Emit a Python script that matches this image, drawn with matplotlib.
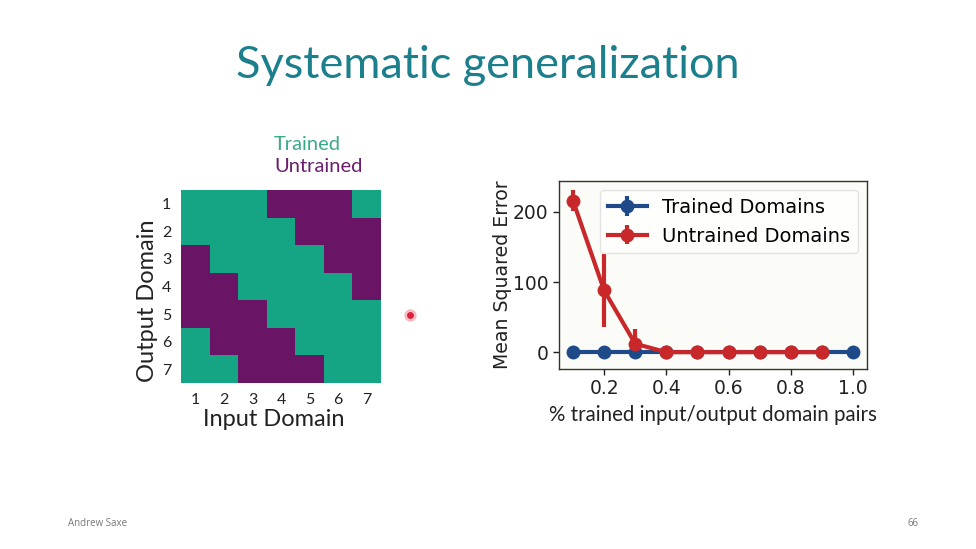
import matplotlib
matplotlib.use("Agg")
import matplotlib.pyplot as plt
import numpy as np
from matplotlib.colors import ListedColormap
from matplotlib.lines import Line2D

# ---- data ----
input_domains = [1, 2, 3, 4, 5, 6, 7]
output_domains = [1, 2, 3, 4, 5, 6, 7]
# 1 = trained, 0 = untrained ; rows = output domain 1..7, cols = input domain 1..7
trained_matrix = [
    [1, 1, 1, 0, 0, 0, 1],
    [1, 1, 1, 1, 0, 0, 0],
    [0, 1, 1, 1, 1, 0, 0],
    [0, 0, 1, 1, 1, 1, 0],
    [0, 0, 0, 1, 1, 1, 1],
    [1, 0, 0, 0, 1, 1, 1],
    [1, 1, 0, 0, 0, 1, 1],
]

frac_trained = [0.1, 0.2, 0.3, 0.4, 0.5, 0.6, 0.7, 0.8, 0.9, 1.0]
trained_mse = [0, 0, 0, 0, 0, 0, 0, 0, 0, 0]
trained_err = [0, 0, 0, 0, 0, 0, 0, 0, 0, 0]
frac_untrained = [0.1, 0.2, 0.3, 0.4, 0.5, 0.6, 0.7, 0.8, 0.9]
untrained_mse = [216, 88, 12, 0, 0, 0, 0, 0, 0]
untrained_err = [15, 52, 21, 1, 0.5, 0.5, 0.5, 0.5, 0.5]
x_ticks = [0.2, 0.4, 0.6, 0.8, 1.0]
y_ticks = [0, 100, 200]

GREEN = "#16a584"
PURPLE = "#6a1466"
TEAL = "#1b7f8c"
BLUE = "#1f4a8a"
RED = "#c8282a"

W, H = 976, 549
fig = plt.figure(figsize=(W / 100, H / 100), dpi=100)
fig.patch.set_facecolor("white")

def ax_rect(x0, y0, x1, y1):
    return [x0 / W, 1 - y1 / H, (x1 - x0) / W, (y1 - y0) / H]

def fx(x):
    return x / W

def fy(y):
    return 1 - y / H

# title
fig.text(fx(488), fy(66), "Systematic generalization", ha="center", va="center",
         fontsize=32.5, color=TEAL, family="Lato")

# ---- heatmap ----
ax1 = fig.add_axes(ax_rect(181, 190, 381, 383))
cmap = ListedColormap([PURPLE, GREEN])
ax1.imshow(np.array(trained_matrix), cmap=cmap, vmin=0, vmax=1, aspect="auto",
           interpolation="nearest")
ax1.set_xticks(range(len(input_domains)))
ax1.set_xticklabels([str(v) for v in input_domains])
ax1.set_yticks(range(len(output_domains)))
ax1.set_yticklabels([str(v) for v in output_domains])
ax1.tick_params(length=0, labelsize=11.5, pad=7, colors="#222222")
for lab in ax1.get_xticklabels() + ax1.get_yticklabels():
    lab.set_family("Lato")
for s in ax1.spines.values():
    s.set_visible(False)
fig.text(fx(274), fy(420), "Input Domain", ha="center", va="center", fontsize=17,
         family="Lato", color="#222222")
fig.text(fx(147), fy(301), "Output Domain", ha="center", va="center", fontsize=17,
         family="Lato", color="#222222", rotation=90)

fig.text(fx(274), fy(145), "Trained", ha="left", va="center", fontsize=14.5,
         color="#3aa98a", family="Lato")
fig.text(fx(274), fy(167), "Untrained", ha="left", va="center", fontsize=14.5,
         color="#6b1e6e", family="Lato")

# ---- line chart ----
ax2 = fig.add_axes(ax_rect(559, 181, 867, 369))
ax2.set_facecolor("#fbfcf7")
ax2.errorbar(frac_trained, trained_mse, yerr=trained_err, color=BLUE, lw=3,
             marker="o", ms=9, elinewidth=3, label="Trained Domains")
ax2.errorbar(frac_untrained, untrained_mse, yerr=untrained_err, color=RED, lw=3,
             marker="o", ms=9, elinewidth=3, label="Untrained Domains")
ax2.set_xlim(0.055, 1.045)
ax2.set_ylim(-24, 244)
ax2.set_xticks(x_ticks)
ax2.set_xticklabels([f"{v:.1f}" for v in x_ticks])
ax2.set_yticks(y_ticks)
ax2.tick_params(labelsize=13.5, length=4, width=1, colors="#222222")
for s in ax2.spines.values():
    s.set_color("#333333")
    s.set_linewidth(1)
ax2.set_ylabel("Mean Squared Error", fontsize=13.6, color="#222222", labelpad=1)
ax2.set_xlabel("% trained input/output domain pairs", fontsize=14.8, family="Lato",
               color="#222222", labelpad=5)
leg = ax2.legend(loc="upper right", fontsize=14, frameon=True, borderpad=0.4,
                 handlelength=2.0, borderaxespad=0,
                 bbox_to_anchor=(1 - 9 / 308, 1 - 9 / 188))
leg.get_frame().set_edgecolor("#dddddd")
leg.get_frame().set_facecolor("white")

# footer
fig.text(fx(68), fy(523), "Andrew Saxe", ha="left", va="center", fontsize=7,
         color="#777777", family="Open Sans")
fig.text(fx(913), fy(523), "66", ha="center", va="center", fontsize=7,
         color="#777777", family="Open Sans")

# pointer dot
fig.add_artist(Line2D([fx(410)], [fy(315)], marker="o", ms=8, color="#f4a0aa",
                      alpha=0.6, transform=fig.transFigure))
fig.add_artist(Line2D([fx(410)], [fy(315)], marker="o", ms=4, color="#e0203c",
                      transform=fig.transFigure))

fig.savefig("out.png", dpi=100, facecolor="white")
